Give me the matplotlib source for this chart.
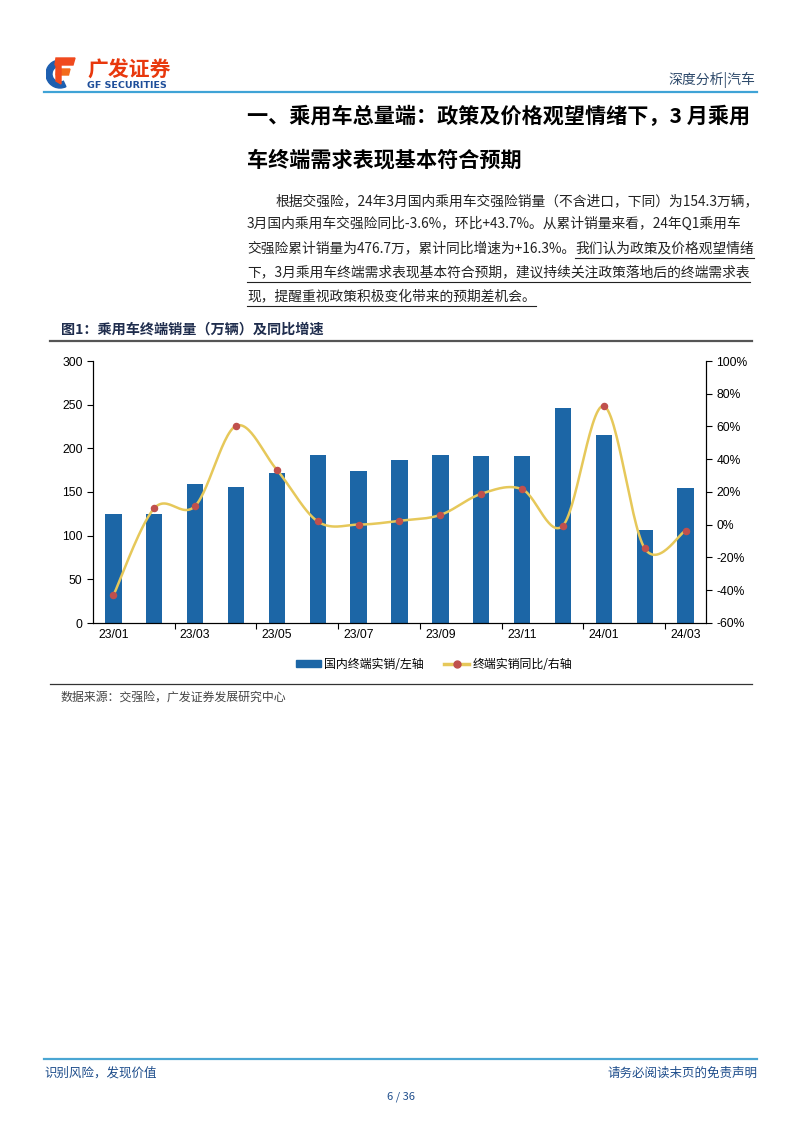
import numpy as np
import matplotlib
matplotlib.use("Agg")
import matplotlib.pyplot as plt
from matplotlib.patches import Patch, Polygon, Wedge
from matplotlib.lines import Line2D

plt.rcParams['font.family'] = ['Noto Sans CJK SC', 'DejaVu Sans']

# data
months = ["23/01", "23/02", "23/03", "23/04", "23/05", "23/06", "23/07", "23/08",
          "23/09", "23/10", "23/11", "23/12", "24/01", "24/02", "24/03"]
sales = [124.6, 125.0, 159.7, 155.9, 171.2, 191.8, 173.5, 187.2,
         191.8, 191.4, 191.4, 245.7, 214.8, 107.0, 154.3]
yoy = [-43.1, 10.1, 11.5, 60.4, 33.5, 2.0, 0.1, 2.4,
       6.0, 18.9, 21.7, -0.5, 72.5, -14.4, -3.6]

W, H = 802, 1133
BLUE_BAR = "#1c66a6"
LINE_YEL = "#e6c85a"
DOT_RED = "#c0504d"
NAVY = "#1f4e8c"


def fx(x):
    return x / W


def fy(y):
    return 1 - y / H


def smooth(xs, ys, n=30):
    # excel-like smoothed line (catmull-rom bezier through the points)
    xs = np.asarray(xs, float)
    ys = np.asarray(ys, float)
    px, py = [], []
    t = np.linspace(0, 1, n)
    for i in range(len(xs) - 1):
        x0, y0 = xs[max(i - 1, 0)], ys[max(i - 1, 0)]
        x1, y1 = xs[i], ys[i]
        x2, y2 = xs[i + 1], ys[i + 1]
        x3, y3 = xs[min(i + 2, len(xs) - 1)], ys[min(i + 2, len(xs) - 1)]
        c1x, c1y = x1 + (x2 - x0) / 6, y1 + (y2 - y0) / 6
        c2x, c2y = x2 - (x3 - x1) / 6, y2 - (y3 - y1) / 6
        bx = (1 - t) ** 3 * x1 + 3 * (1 - t) ** 2 * t * c1x + 3 * (1 - t) * t ** 2 * c2x + t ** 3 * x2
        by = (1 - t) ** 3 * y1 + 3 * (1 - t) ** 2 * t * c1y + 3 * (1 - t) * t ** 2 * c2y + t ** 3 * y2
        px.extend(bx)
        py.extend(by)
    return np.array(px), np.array(py)


fig = plt.figure(figsize=(W / 100, H / 100), dpi=100)

# ---- header ----
fig.add_artist(Line2D([fx(44), fx(757)], [fy(92), fy(92)], color="#3fa3d6", lw=1.6))
lax = fig.add_axes([fx(46), fy(90), fx(30), 34 / H])
lax.set_xlim(0, 30)
lax.set_ylim(0, 34)
lax.axis("off")
lax.add_patch(Wedge((14, 16), 14, 100, 295, width=6, color="#1d5fb0"))
lax.add_patch(Polygon([[10, 32], [29, 32], [27, 25], [9, 25]], color="#f04a1e"))
lax.add_patch(Polygon([[11, 21], [24, 21], [22.5, 15], [10, 15]], color="#f36b1c"))
lax.add_patch(Polygon([[10, 25], [15, 25], [15, 6], [10, 9]], color="#f04a1e"))
fig.text(fx(87), fy(70), "广发证券", fontsize=15, fontweight="bold", color="#e8380d", va="center")
fig.text(fx(87), fy(85.5), "GF SECURITIES", fontsize=6.8, fontweight="bold", color="#1e4e9a",
         va="center", family=["DejaVu Sans"])
fig.text(fx(755), fy(80), "深度分析|汽车", fontsize=10, color="#2e4a6b", ha="right", va="center")

# ---- title ----
fig.text(fx(247), fy(116), "一、乘用车总量端：政策及价格观望情绪下，3 月乘用",
         fontsize=15.2, fontweight="bold", va="center")
fig.text(fx(247), fy(160), "车终端需求表现基本符合预期",
         fontsize=15.2, fontweight="bold", va="center")

# ---- paragraph ----
para = [
    (276, 201, "根据交强险，24年3月国内乘用车交强险销量（不含进口，下同）为154.3万辆，", ""),
    (247, 224, "3月国内乘用车交强险同比-3.6%，环比+43.7%。从累计销量来看，24年Q1乘用车", ""),
    (247, 248, "交强险累计销量为476.7万，累计同比增速为+16.3%。", "我们认为政策及价格观望情绪"),
    (247, 272, "", "下，3月乘用车终端需求表现基本符合预期，建议持续关注政策落地后的终端需求表"),
    (247, 296, "", "现，提醒重视政策积极变化带来的预期差机会。"),
]
fig.canvas.draw()
renderer = fig.canvas.get_renderer()
for x, y, plain, under in para:
    xcur = x
    if plain:
        t = fig.text(fx(xcur), fy(y), plain, fontsize=9.9, color="#222222", va="center")
        bb = t.get_window_extent(renderer)
        xcur = bb.x1
    if under:
        t = fig.text(fx(xcur), fy(y), under, fontsize=9.9, color="#222222", va="center")
        bb = t.get_window_extent(renderer)
        fig.add_artist(Line2D([bb.x0 / W, bb.x1 / W], [fy(y + 10), fy(y + 10)],
                              color="#222222", lw=0.8))

# ---- figure caption ----
fig.text(fx(61), fy(330), "图1：乘用车终端销量（万辆）及同比增速", fontsize=10.2,
         fontweight="bold", color="#1f2d4d", va="center")
fig.add_artist(Line2D([fx(50), fx(752)], [fy(341), fy(341)], color="#555555", lw=1.6))

# ---- chart ----
ax = fig.add_axes([fx(93), fy(623), fx(706 - 93), (623 - 361) / H])
x = np.arange(len(months))
ax.bar(x, sales, width=0.4, color=BLUE_BAR, zorder=2)
ax.set_xlim(-0.5, len(months) - 0.5)
ax.set_ylim(0, 300)
ax.set_yticks(np.arange(0, 301, 50))
ax.set_xticks(np.arange(1.5, len(months) - 1, 2))
ax.set_xticklabels([])
ax.set_xticks(np.arange(0, len(months), 2), minor=True)
ax.set_xticklabels(months[::2], minor=True)
ax.tick_params(axis="x", which="minor", length=0, pad=4)
ax.tick_params(axis="x", which="major", length=4, direction="out")
ax.tick_params(axis="y", length=4, direction="out")
for lab in ax.get_xticklabels(minor=True) + ax.get_yticklabels():
    lab.set_fontsize(8.7)
    lab.set_family(["Liberation Sans"])
ax.spines["top"].set_visible(False)

ax2 = ax.twinx()
sx, sy = smooth(x, yoy)
ax2.plot(sx, sy, color=LINE_YEL, lw=1.8, zorder=3)
ax2.plot(x, yoy, "o", color=DOT_RED, ms=4.4, zorder=4)
ax2.set_ylim(-60, 100)
ax2.set_yticks(np.arange(-60, 101, 20))
ax2.set_yticklabels([f"{v}%" for v in range(-60, 101, 20)])
ax2.tick_params(axis="y", length=4, direction="out")
for lab in ax2.get_yticklabels():
    lab.set_fontsize(8.7)
    lab.set_family(["Liberation Sans"])
ax2.spines["top"].set_visible(False)

handles = [Patch(color=BLUE_BAR),
           Line2D([], [], color=LINE_YEL, lw=2.5, marker="o", ms=5, markerfacecolor=DOT_RED,
                  markeredgecolor=DOT_RED)]
fig.legend(handles, ["国内终端实销/左轴", "终端实销同比/右轴"], loc="center",
           bbox_to_anchor=(fx(434), fy(664)), ncol=2, frameon=False, fontsize=8.6,
           handlelength=2.1, handleheight=0.55, columnspacing=1.7, handletextpad=0.25)

# ---- source ----
fig.add_artist(Line2D([fx(50), fx(752)], [fy(684), fy(684)], color="#333333", lw=0.9))
fig.text(fx(61), fy(697), "数据来源：交强险，广发证券发展研究中心", fontsize=8.6,
         color="#444444", va="center")

# ---- footer ----
fig.add_artist(Line2D([fx(44), fx(757)], [fy(1059), fy(1059)], color="#4aa6d3", lw=1.6))
fig.text(fx(44), fy(1073), "识别风险，发现价值", fontsize=9, color=NAVY, va="center")
fig.text(fx(757), fy(1073), "请务必阅读末页的免责声明", fontsize=9, color=NAVY,
         va="center", ha="right")
fig.text(fx(401), fy(1097), "6 / 36", fontsize=8, color=NAVY, va="center", ha="center")

fig.savefig("out.png", dpi=100)
